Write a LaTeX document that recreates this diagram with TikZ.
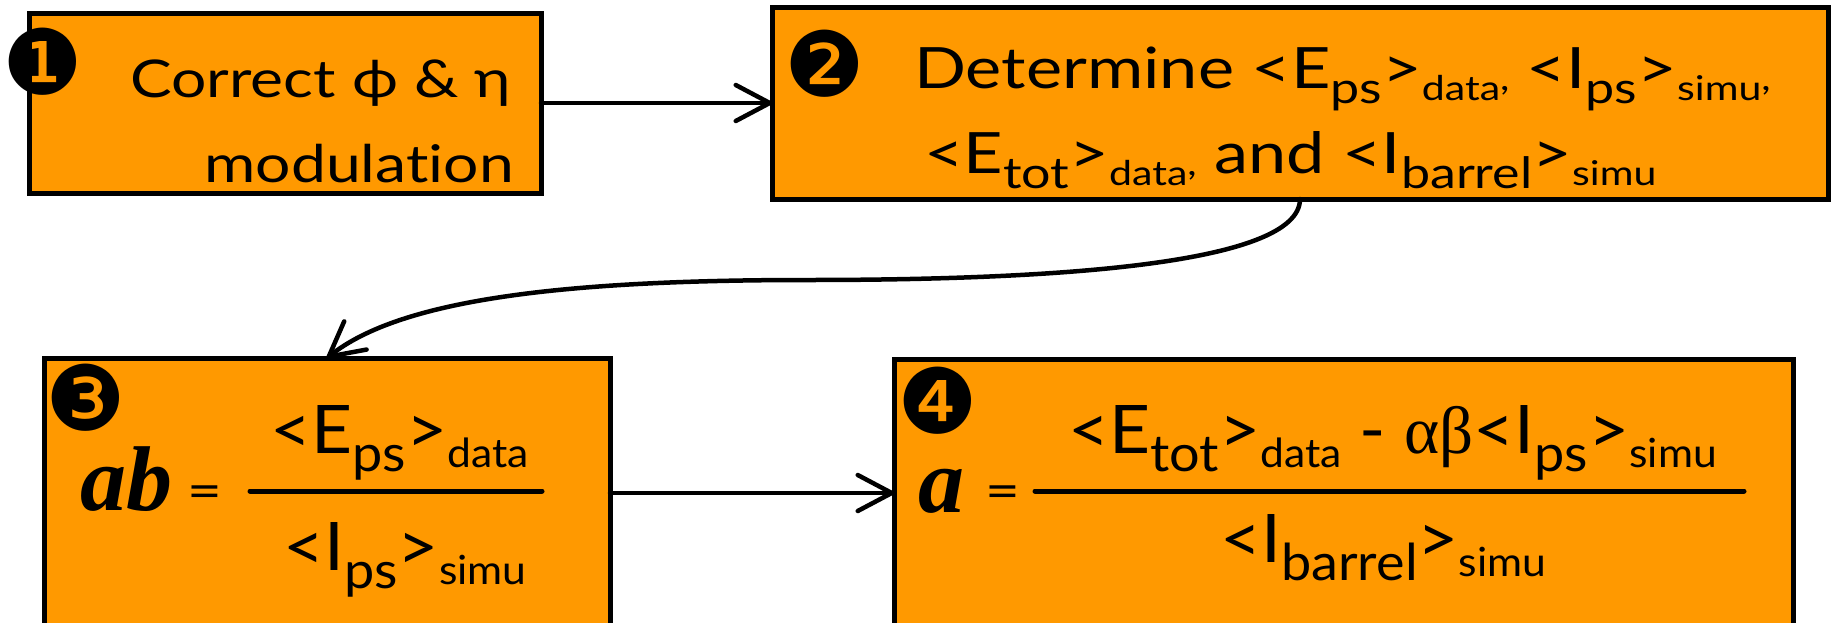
\documentclass[tikz,border=0pt]{standalone}
\usepackage{fontspec}
\setmainfont{Lato}[FakeStretch=1.2, Ligatures=NoCommon]
\newfontfamily\fracfont{Lato}[FakeStretch=1.06, Ligatures=NoCommon]
\newfontfamily\dingfont{DejaVu Sans}
\newfontfamily\varfont{Liberation Serif}
\usetikzlibrary{arrows.meta}

\definecolor{boxorange}{RGB}{255,153,0}

% index and source marks
\newcommand{\lo}[1]{\raisebox{-0.28em}{\scalebox{0.76}{#1}}}
\newcommand{\src}[1]{\raisebox{-0.22em}{\scalebox{0.6}{#1}}}
\newcommand{\cm}{\raisebox{0.3em}{,}}

\begin{document}
\begin{tikzpicture}[
    x=1pt, y=-1pt,
    stepbox/.style={draw=black, line width=5pt, fill=boxorange, rectangle,
      inner sep=0pt, outer sep=0pt, anchor=north west},
    badge/.style={font=\dingfont\fontsize{90}{90}\selectfont, inner sep=0pt, yshift=4pt},
    txt/.style={inner sep=0pt},
    flow/.style={line width=4.5pt, line cap=round,
      -{Straight Barb[length=34pt,width=36pt,line width=4.5pt,round]}},
    bar/.style={line width=5pt, line cap=round}
]
  \useasboundingbox (0,0) rectangle (1834,622);

  % Boxes
  \node[stepbox, minimum width=511.5, minimum height=180] (b1) at (29.5,13) {};
  \node[stepbox, minimum width=1056, minimum height=192] (b2) at (772,7) {};
  \node[stepbox, minimum width=566, minimum height=270] (b3) at (44,358) {};
  \node[stepbox, minimum width=899, minimum height=270] (b4) at (894,359) {};

  % Badges
  \node[badge] (n1) at (43,66) {❶};
  \node[badge] (n2) at (825,68) {❷};
  \node[badge] (n3) at (86,402) {❸};
  \node[badge] (n4) at (938,405) {❹};

  % Step 1
  \begin{scope}[font=\fontsize{52}{60}\selectfont]
    \node[txt, anchor=base east] (t1a) at (511,97) {Correct ϕ \& η};
    \node[txt, anchor=base east] (t1b) at (514,182) {modulation};
  \end{scope}

  % Step 2
  \begin{scope}[font=\fontsize{57}{60}\selectfont]
    \node[txt, anchor=base west] (t2a) at (914,88)
      {Determine <E\lo{ps}>\src{data\cm} <I\lo{ps}>\src{simu\cm}};
    \node[txt, anchor=base west] (t2b) at (924,173)
      {<E\lo{tot}>\src{data\cm} and <I\lo{barrel}>\src{simu}};
  \end{scope}

  % Step 3
  \node[txt, anchor=base west, font=\varfont\bfseries\itshape\fontsize{92}{92}\selectfont] (ab) at (80,510) {ab};
  \node[txt, font=\fontsize{50}{50}\selectfont] (eq3) at (205,497) {=};
  \draw[bar] (250,491) -- (542,491);
  \begin{scope}[font=\fracfont\fontsize{67}{70}\selectfont]
    \node[txt, anchor=base west] (num3) at (270,453) {<E\lo{ps}>\src{data}};
    \node[txt, anchor=base west] (den3) at (283,570) {<I\lo{ps}>\src{simu}};
  \end{scope}

  % Step 4
  \node[txt, anchor=base west, font=\varfont\bfseries\itshape\fontsize{92}{92}\selectfont] (a) at (918,512) {a};
  \node[txt, font=\fontsize{50}{50}\selectfont] (eq4) at (1003,497) {=};
  \draw[bar] (1035,491) -- (1744,491);
  \begin{scope}[font=\fracfont\fontsize{67}{70}\selectfont]
    \node[txt, anchor=base west] (num4) at (1068,453)
      {<E\lo{tot}>\src{data} - {\varfont αβ}<I\lo{ps}>\src{simu}};
    \node[txt, anchor=base west] (den4) at (1220,562) {<I\lo{barrel}>\src{simu}};
  \end{scope}

  % Arrows
  \coordinate (bend) at (807,280);
  \draw[flow] (b1) -- (b2);
  \draw[flow] (b2.south) .. controls (1300,265) and (1050,280) .. (bend)
    .. controls (560,280) and (400,300) .. (b3.north);
  \draw[flow] (b3.east) -- (b3.east -| b4.west);
\end{tikzpicture}
\end{document}
